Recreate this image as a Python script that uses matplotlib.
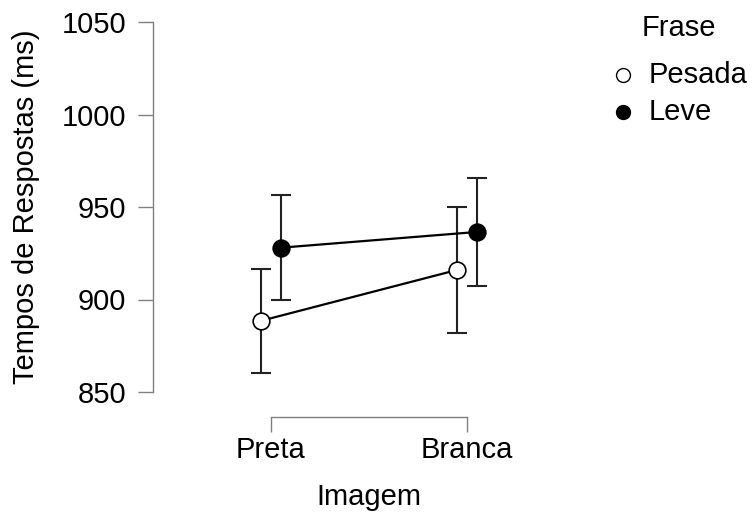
import matplotlib.pyplot as plt
from matplotlib.lines import Line2D
import numpy as np

plt.rcParams['font.family'] = ['Liberation Sans', 'DejaVu Sans']

categories = ["Preta", "Branca"]
groups = ["Pesada", "Leve"]
means = {"Pesada": [888.5, 916.0], "Leve": [928.0, 936.5]}
errors = {"Pesada": [28.0, 34.0], "Leve": [28.5, 29.0]}
facecolors = {"Pesada": "white", "Leve": "black"}
offsets = {"Pesada": -0.05, "Leve": 0.05}
yticks = [850, 900, 950, 1000, 1050]

W, H = 752, 520
fig = plt.figure(figsize=(W / 100, H / 100), dpi=100)
ax = fig.add_axes([153 / W, 128 / H, 432 / W, 370 / H])

x = np.arange(len(categories))
for g in groups:
    xs = x + offsets[g]
    ax.errorbar(xs, means[g], yerr=errors[g], fmt='none', ecolor='#222222',
                elinewidth=1.5, capsize=7, capthick=1.5, zorder=2)
    ax.plot(xs, means[g], color='black', lw=1.6, marker='o', ms=12,
            mfc=facecolors[g], mec='black', mew=1.2, zorder=3)

ax.set_ylim(850, 1050)
ax.set_xlim(-(271 - 153) / 196, 1 + (585 - 467) / 196)
ax.set_yticks(yticks)
ax.set_xticks(x)
ax.set_xticklabels(categories)

for side in ['top', 'right']:
    ax.spines[side].set_visible(False)
ax.spines['left'].set_bounds(850, 1050)
ax.spines['bottom'].set_bounds(0, 1)
ax.spines['bottom'].set_position(('outward', 18))
for side in ['left', 'bottom']:
    ax.spines[side].set_color('#808080')
    ax.spines[side].set_linewidth(1.0)
ax.tick_params(axis='both', colors='#808080', labelcolor='black',
               labelsize=21, length=10.5, width=1.0, pad=9)
ax.tick_params(axis='x', pad=3)

ax.set_xlabel("Imagem", fontsize=21, labelpad=14)
ax.set_ylabel("Tempos de Respostas (ms)", fontsize=21, labelpad=15)

# legend drawn by hand in pixel positions
fig.text(679 / W, 1 - 28 / H, "Frase", fontsize=21, ha='center', va='center')
for g, yy in zip(groups, [75, 112]):
    fig.add_artist(Line2D([623 / W], [1 - yy / H], ls='none', marker='o', ms=10,
                          mfc=facecolors[g], mec='black', mew=1.0,
                          transform=fig.transFigure))
    fig.text(649 / W, 1 - yy / H, g, fontsize=21, ha='left', va='center')

fig.savefig("out.png", dpi=100)
